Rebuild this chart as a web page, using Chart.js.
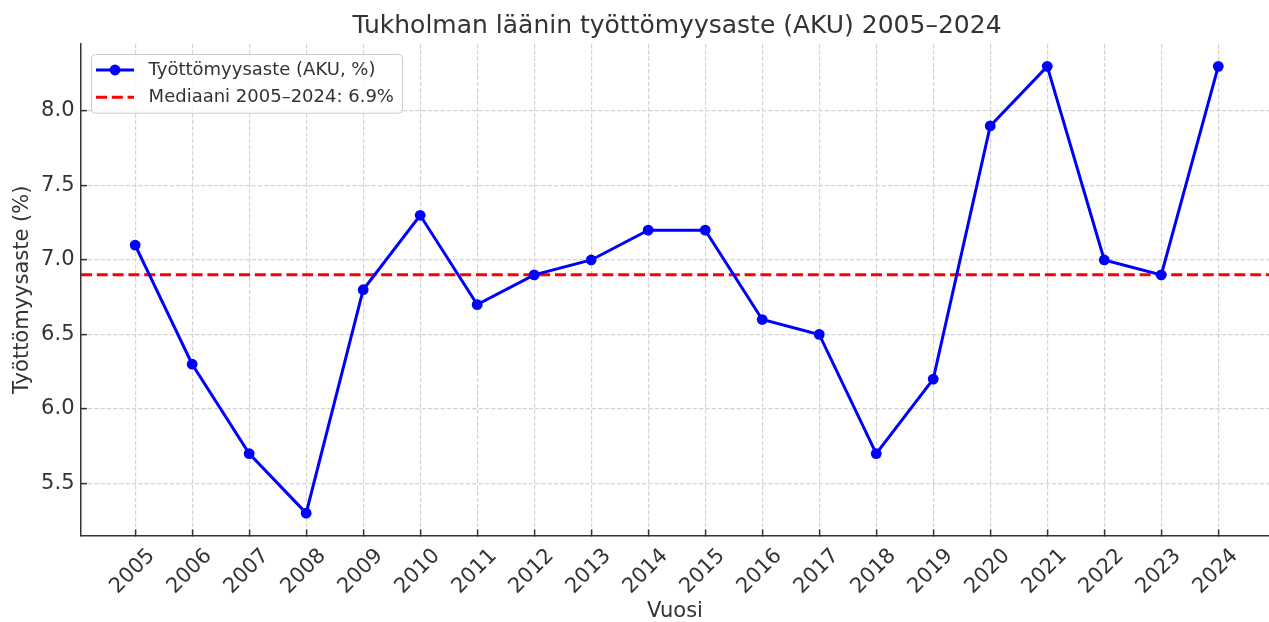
<!DOCTYPE html>
<html lang="fi">
<head>
  <meta charset="UTF-8" />
  <title>Tukholman läänin työttömyysaste (AKU) 2005–2024</title>
  <script src="https://cdn.jsdelivr.net/npm/chart.js@4"></script>
  <style>
    html, body { margin: 0; padding: 0; background: #fff; overflow: hidden; }
    .chart-wrap { width: 1269px; height: 622px; position: relative; }
  </style>
</head>
<body>
  <div class="chart-wrap">
    <canvas id="unemploymentChart"></canvas>
  </div>

  <script>
    // Values
    const years = [2005, 2006, 2007, 2008, 2009, 2010, 2011, 2012, 2013, 2014,
                   2015, 2016, 2017, 2018, 2019, 2020, 2021, 2022, 2023, 2024];
    const rates = [7.1, 6.3, 5.7, 5.3, 6.8, 7.3, 6.7, 6.9, 7.0, 7.2,
                   7.2, 6.6, 6.5, 5.7, 6.2, 7.9, 8.3, 7.0, 6.9, 8.3];
    const medianRate = 6.9;
    const yTicks = [5.5, 6.0, 6.5, 7.0, 7.5, 8.0];
    const xLimits = [2004.05, 2024.89];
    const yLimits = [5.15, 8.45];
    const chartTitle = 'Tukholman läänin työttömyysaste (AKU) 2005–2024';

    const FONT = "'DejaVu Sans', sans-serif";
    const TEXT = '#333333';
    const AXIS = '#333333';
    const GRID = '#d4d4d4';

    // Title centred over the plot area, legend inside the plot (upper left)
    const titleAndLegend = {
      id: 'titleAndLegend',
      afterDraw(chart) {
        const { ctx, chartArea } = chart;
        ctx.save();
        ctx.font = '25px ' + FONT;
        ctx.fillStyle = TEXT;
        ctx.textAlign = 'center';
        ctx.textBaseline = 'alphabetic';
        ctx.fillText(chartTitle, (chartArea.left + chartArea.right) / 2 + 2, 33);

        const items = chart.data.datasets;
        const x0 = chartArea.left + 10;
        const y0 = chartArea.top + 10;
        ctx.font = '18px ' + FONT;
        ctx.textAlign = 'left';
        const textW = Math.max(...items.map(d => ctx.measureText(d.label).width));
        const w = 5 + 38 + 14.6 + textW + 8;
        const h = 58.7;
        ctx.beginPath();
        ctx.roundRect(x0 + 0.5, y0 + 0.5, w, h, 4);
        ctx.fillStyle = 'rgba(255,255,255,0.8)';
        ctx.fill();
        ctx.strokeStyle = '#cccccc';
        ctx.lineWidth = 1;
        ctx.stroke();

        items.forEach((d, i) => {
          const cy = y0 + 16 + i * 27.3;
          const hx = x0 + 5;
          ctx.strokeStyle = d.borderColor;
          ctx.lineWidth = d.borderWidth;
          ctx.setLineDash(d.borderDash || []);
          ctx.beginPath();
          ctx.moveTo(hx, cy);
          ctx.lineTo(hx + 38, cy);
          ctx.stroke();
          ctx.setLineDash([]);
          if (d.pointRadius) {
            ctx.fillStyle = d.backgroundColor;
            ctx.beginPath();
            ctx.arc(hx + 19, cy, d.pointRadius, 0, Math.PI * 2);
            ctx.fill();
          }
          ctx.fillStyle = TEXT;
          ctx.textBaseline = 'middle';
          ctx.fillText(d.label, hx + 52.6, cy);
        });
        ctx.restore();
      }
    };

    const noScalePadding = s => {
      s.paddingLeft = 0; s.paddingRight = 0;
      s.paddingTop = 0; s.paddingBottom = 0;
    };

    const ctx = document.getElementById('unemploymentChart').getContext('2d');
    const unemploymentChart = new Chart(ctx, {
      type: 'line',
      data: {
        datasets: [{
          label: 'Työttömyysaste (AKU, %)',
          data: years.map((y, i) => ({ x: y, y: rates[i] })),
          borderColor: '#0000ff',
          backgroundColor: '#0000ff',
          borderWidth: 3,
          pointRadius: 5.4,
          pointBorderWidth: 0,
          pointHoverRadius: 5.4,
          tension: 0,
          fill: false
        }, {
          label: 'Mediaani 2005–2024: ' + medianRate.toFixed(1) + '%',
          data: [{ x: xLimits[0], y: medianRate }, { x: xLimits[1], y: medianRate }],
          borderColor: '#ff0000',
          backgroundColor: '#ff0000',
          borderWidth: 3,
          borderDash: [11, 4.8],
          pointRadius: 0,
          fill: false
        }]
      },
      options: {
        responsive: true,
        maintainAspectRatio: false,
        animation: false,
        devicePixelRatio: 1,
        events: [],
        layout: { autoPadding: false, padding: { top: 44, left: 0, right: 0, bottom: 0 } },
        plugins: {
          legend: { display: false },
          tooltip: { enabled: false },
          title: { display: false }
        },
        scales: {
          x: {
            type: 'linear',
            min: xLimits[0],
            max: xLimits[1],
            afterBuildTicks: s => { s.ticks = years.map(v => ({ value: v })); },
            afterFit: s => { s.height = 86.5; noScalePadding(s); },
            ticks: {
              autoSkip: false,
              minRotation: 45,
              maxRotation: 45,
              labelOffset: 16.4,
              padding: 14.2,
              color: TEXT,
              font: { family: FONT, size: 21 },
              callback: v => String(v)
            },
            grid: {
              color: GRID,
              lineWidth: 1.2,
              tickColor: AXIS,
              tickWidth: 1.5,
              tickLength: -6,
              tickBorderDash: []
            },
            border: { color: AXIS, width: 1.5, dash: [4.4, 1.9] },
            title: {
              display: true,
              text: 'Vuosi',
              color: TEXT,
              font: { family: FONT, size: 21, lineHeight: 1 },
              padding: { top: 0, bottom: 0 }
            }
          },
          y: {
            type: 'linear',
            min: yLimits[0],
            max: yLimits[1],
            afterBuildTicks: s => { s.ticks = yTicks.map(v => ({ value: v })); },
            afterFit: s => { s.width = 81; noScalePadding(s); },
            ticks: {
              padding: 12.5,
              color: TEXT,
              font: { family: FONT, size: 21 },
              callback: v => v.toFixed(1)
            },
            grid: {
              color: GRID,
              lineWidth: 1.2,
              tickColor: AXIS,
              tickWidth: 1.5,
              tickLength: -6,
              tickBorderDash: []
            },
            border: { color: AXIS, width: 1.5, dash: [4.4, 1.9] },
            title: {
              display: true,
              text: 'Työttömyysaste (%)',
              color: TEXT,
              font: { family: FONT, size: 21, lineHeight: 1 },
              padding: { top: 12.5, bottom: 0 }
            }
          }
        }
      },
      plugins: [titleAndLegend]
    });
  </script>
</body>
</html>
